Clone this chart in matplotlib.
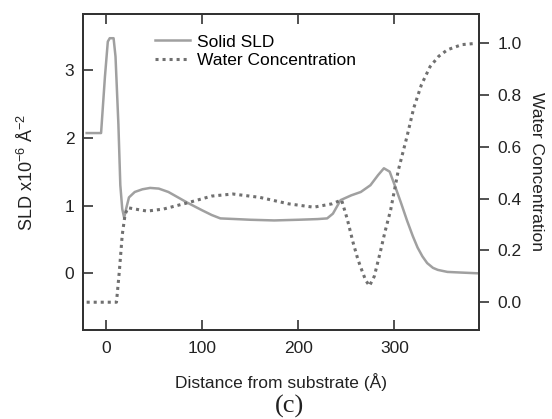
import matplotlib
matplotlib.use('Agg')
import matplotlib.pyplot as plt

plt.rcParams['font.family'] = ['Liberation Sans', 'DejaVu Sans']
plt.rcParams['mathtext.default'] = 'regular'

# SLD profile (left axis)
sld_x = [-20, -5, -1, 2, 4, 8, 10, 13, 15, 17, 19, 21, 24, 30, 38, 46, 55, 65, 75, 85,
         100, 110, 119, 135, 150, 175, 200, 220, 230, 236, 244, 255, 265, 275, 283, 289,
         295, 301, 307, 313, 319, 324, 329, 334, 340, 345, 355, 370, 386]
sld_y = [2.07, 2.07, 2.9, 3.42, 3.47, 3.47, 3.2, 2.2, 1.3, 0.95, 0.82, 0.95, 1.12, 1.2, 1.24, 1.26, 1.25, 1.2, 1.12, 1.04,
         0.93, 0.86, 0.81, 0.8, 0.79, 0.78, 0.79, 0.8, 0.81, 0.88, 1.08, 1.15, 1.2, 1.3, 1.45, 1.55,
         1.5, 1.27, 1.03, 0.78, 0.55, 0.38, 0.25, 0.15, 0.08, 0.05, 0.02, 0.01, 0.0]

# water concentration (right axis)
wat_x = [-20, 11, 14, 17, 20, 23, 30, 43, 60, 85, 110, 132, 160, 190, 216, 235, 245,
         251, 257, 262, 266, 270, 274, 279, 285, 290, 296, 304, 313, 320, 328, 337, 346,
         355, 370, 385]
wat_y = [0.0, 0.0, 0.12, 0.26, 0.34, 0.365, 0.36, 0.352, 0.36, 0.384, 0.41, 0.418, 0.405, 0.38, 0.367, 0.38, 0.395,
         0.32, 0.23, 0.165, 0.124, 0.085, 0.063, 0.1, 0.19, 0.27, 0.356, 0.51, 0.64, 0.75, 0.84, 0.91, 0.95,
         0.975, 0.995, 1.0]

fig = plt.figure(figsize=(5.52, 4.19), dpi=100)
ax = fig.add_axes([0.150, 0.212, 0.718, 0.755])
ax2 = ax.twinx()

l1, = ax.plot(sld_x, sld_y, color='#a0a0a0', lw=1.8, label='Solid SLD')
l2, = ax2.plot(wat_x, wat_y, color='#707070', lw=2.2, linestyle=(0, (1, 1.3)),
               label='Water Concentration')

ax.set_xlim(-24, 388)
ax.set_ylim(-0.84, 3.83)
ax2.set_ylim(-0.108, 1.114)

ax.set_xticks([0, 100, 200, 300])
ax.set_yticks([0, 1, 2, 3])
ax2.set_yticks([0.0, 0.2, 0.4, 0.6, 0.8, 1.0])
ax2.set_yticklabels(['0.0', '0.2', '0.4', '0.6', '0.8', '1.0'])

for a in (ax, ax2):
    for s in a.spines.values():
        s.set_color('#333333')
        s.set_linewidth(1.4)

fs = 12.5
ax.tick_params(axis='both', direction='in', length=7, width=1.2, color='#333333',
               labelsize=fs, labelcolor='#222222', top=True, pad=6)
ax.tick_params(axis='x', pad=8)
ax2.tick_params(axis='y', direction='out', length=7, width=1.2, color='#333333',
                labelsize=fs, labelcolor='#222222', pad=6)

ax.set_xlabel('Distance from substrate (Å)', fontsize=fs, color='#222222', labelpad=12)
ax.set_ylabel('SLD x10$^{-6}$ Å$^{-2}$', fontsize=13, color='#222222', labelpad=20)
ax2.set_ylabel('Water Concentration', fontsize=fs, color='#222222', rotation=270, labelpad=16)

ax.legend(handles=[l1, l2], loc='upper left', bbox_to_anchor=(0.182, 0.935), frameon=False,
          fontsize=fs, handlelength=2.0, handletextpad=0.45, labelspacing=0.2,
          borderaxespad=0, borderpad=0)

fig.text(0.525, 1 - 406 / 419, '(c)', ha='center', va='center', fontsize=19,
         family=['Liberation Serif', 'DejaVu Serif'], color='#222222')

fig.savefig('out.png', dpi=100)
